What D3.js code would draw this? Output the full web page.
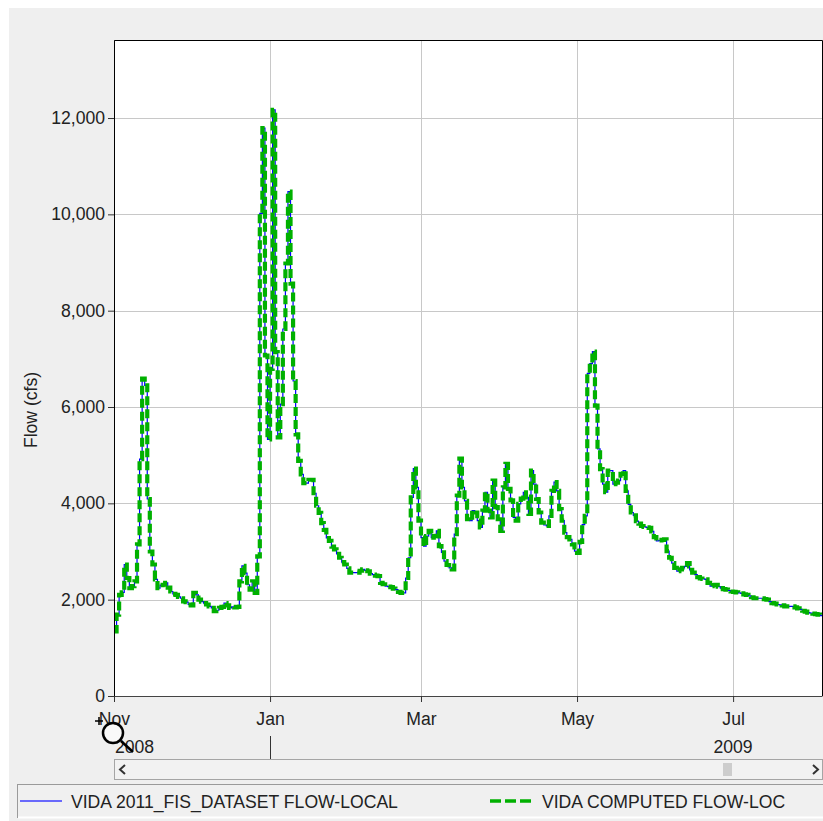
<!DOCTYPE html>
<html>
<head>
<meta charset="utf-8">
<script src="https://cdn.jsdelivr.net/npm/d3@7"></script>
<style>
    html, body { margin: 0; padding: 0; background: #fff; }
    #chart { width: 823px; height: 821px; }
    text { font-family: "Liberation Sans", Arial, sans-serif; fill: #222; }
</style>
</head>
<body>
<div id="chart"></div>
<script>
// Daily flow (cfs), first value is 2008-11-01
const startDate = '2008-11-01';
const localFlow = [
    1340, 1690, 2100, 2150, 2730, 2450, 2240, 2280, 2380, 3150,
    4920, 6590, 6450, 4090, 3000, 2730, 2420, 2240, 2300, 2310,
    2350, 2250, 2170, 2120, 2100, 2060, 2030, 1965, 1950, 1900,
    1880, 2140, 2100, 2000, 1960, 1930, 1900, 1860, 1830, 1760,
    1780, 1830, 1850, 1930, 1880, 1830, 1850, 1840, 1850, 2380,
    2700, 2550, 2310, 2210, 2380, 2140, 2900, 10020, 11790, 7070,
    5330, 6790, 12170, 7140, 5370, 6060, 7620, 8980, 10470, 8560,
    6540, 5430, 4880, 4600, 4420, 4420, 4490, 4490, 4210, 3950,
    3800, 3590, 3450, 3280, 3220, 3100, 3045, 2950, 2870, 2780,
    2730, 2650, 2560, 2560, 2560, 2560, 2600, 2630, 2610, 2590,
    2540, 2520, 2500, 2490, 2350, 2320, 2280, 2270, 2260, 2230,
    2210, 2160, 2140, 2140, 2450, 2870, 4125, 4720, 4330, 3640,
    3290, 3110, 3320, 3430, 3290, 3320, 3430, 3110, 2980, 2800,
    2720, 2660, 2630, 3360, 4160, 4930, 4330, 4050, 3670, 3640,
    3850, 3810, 3640, 3500, 3850, 4230, 3850, 3710, 4470, 3920,
    3670, 3430, 4330, 4820, 4300, 4060, 3710, 3640, 3990, 4100,
    4230, 4125, 3780, 4680, 4400, 4090, 3810, 3600, 3550, 3530,
    3740, 4260, 4440, 4260, 3880, 3640, 3390, 3300, 3250, 3150,
    3010, 2970, 3200, 3560, 3740, 6700, 6900, 7150, 6030, 5130,
    4710, 4400, 4230, 4680, 4680, 4400, 4430, 4470, 4610, 4680,
    4260, 3980, 3810, 3750, 3630, 3580, 3530, 3510, 3500, 3490,
    3420, 3300, 3220, 3230, 3240, 3250, 3010, 2870, 2760, 2660,
    2590, 2630, 2660, 2690, 2760, 2620, 2560, 2520, 2470, 2440,
    2430, 2420, 2350, 2280, 2300, 2310, 2270, 2240, 2220, 2210,
    2190, 2170, 2160, 2150, 2140, 2130, 2110, 2100, 2080, 2050,
    2030, 2030, 2030, 2030, 2010, 2000, 1960, 1930, 1920, 1900,
    1890, 1880, 1860, 1860, 1860, 1860, 1840, 1820, 1800, 1770,
    1750, 1730, 1720, 1710, 1700, 1690, 1670, 1660
];
// computed series lies on top of the observed one in the picture
const computedFlow = localFlow;

const seriesNames = ['VIDA 2011_FIS_DATASET FLOW-LOCAL', 'VIDA COMPUTED FLOW-LOC'];
const yTicks = [0, 2000, 4000, 6000, 8000, 10000, 12000];
const monthTicks = ['2008-11-01', '2009-01-01', '2009-03-01', '2009-05-01', '2009-07-01'];
const yearLabels = ['2008', '2009'];
const yearBreaks = ['2009-01-01'];
const yMax = 13620;
const yLabel = 'Flow (cfs)';

class FlowChart {
    constructor(elementId) {
        this.elementId = elementId;
        this.width = 823;
        this.height = 821;
        this.fontSize = '17.6px';
        this.plot = { left: 114, top: 40, right: 822, bottom: 696 };
    }

    init() {
        const container = document.getElementById(this.elementId);
        container.innerHTML = '';
        const p = this.plot;
        const fs = this.fontSize;
        const parse = d3.timeParse('%Y-%m-%d');
        const start = parse(startDate);
        const end = d3.timeHour.offset(parse('2009-08-04'), 18);

        const svg = d3.select(container).append('svg')
            .attr('width', this.width)
            .attr('height', this.height);

        // Panel background
        svg.append('rect').attr('width', this.width).attr('height', this.height).attr('fill', '#fff');
        svg.append('rect').attr('x', 9).attr('y', 8)
            .attr('width', this.width - 9).attr('height', this.height - 8)
            .attr('fill', '#efefef');

        const x = d3.scaleTime().domain([start, end]).range([p.left, p.right]);
        const y = d3.scaleLinear().domain([0, yMax]).range([p.bottom, p.top]);

        svg.append('rect')
            .attr('x', p.left).attr('y', p.top)
            .attr('width', p.right - p.left).attr('height', p.bottom - p.top)
            .attr('fill', '#fff');

        // Grid
        const grid = svg.append('g').attr('stroke', '#c8c8c8').attr('stroke-width', 1);
        grid.selectAll('.hy').data(yTicks.slice(1)).enter().append('line')
            .attr('x1', p.left).attr('x2', p.right)
            .attr('y1', d => Math.round(y(d)) + 0.5).attr('y2', d => Math.round(y(d)) + 0.5);
        grid.selectAll('.vx').data(monthTicks.slice(1)).enter().append('line')
            .attr('x1', d => Math.round(x(parse(d))) + 0.5).attr('x2', d => Math.round(x(parse(d))) + 0.5)
            .attr('y1', p.top).attr('y2', p.bottom);

        // Series
        svg.append('clipPath').attr('id', 'plot-clip').append('rect')
            .attr('x', p.left).attr('y', p.top)
            .attr('width', p.right - p.left).attr('height', p.bottom - p.top);

        const toPoints = arr => arr.map((v, i) => ({ date: d3.timeDay.offset(start, i), value: v }));
        const line = d3.line()
            .x(d => x(d.date))
            .y(d => y(d.value))
            .curve(d3.curveStepAfter);

        const series = svg.append('g').attr('clip-path', 'url(#plot-clip)');
        series.append('path')
            .datum(toPoints(localFlow))
            .attr('fill', 'none')
            .attr('stroke', '#0000ff')
            .attr('stroke-width', 1.2)
            .attr('d', line);
        series.append('path')
            .datum(toPoints(computedFlow))
            .attr('fill', 'none')
            .attr('stroke', '#00b000')
            .attr('stroke-width', 4.2)
            .attr('stroke-dasharray', '9,4')
            .attr('d', line);

        // Y axis
        const yAxis = svg.append('g')
            .attr('transform', `translate(${p.left},0)`)
            .call(d3.axisLeft(y).tickValues(yTicks).tickFormat(d3.format(',')).tickSize(6).tickPadding(3).tickSizeOuter(0));
        yAxis.select('.domain').attr('stroke', '#000');
        yAxis.selectAll('.tick line').attr('stroke', '#333');
        yAxis.selectAll('text').style('font-size', fs).attr('fill', '#222');

        // X axis
        const xAxis = svg.append('g')
            .attr('transform', `translate(0,${p.bottom})`)
            .call(d3.axisBottom(x).tickValues(monthTicks.map(parse))
                .tickFormat(d3.timeFormat('%b')).tickSize(6).tickPadding(11).tickSizeOuter(0));
        xAxis.select('.domain').attr('stroke', '#444');
        xAxis.selectAll('.tick line').attr('stroke', '#333');
        xAxis.selectAll('text').style('font-size', fs).attr('fill', '#222');

        // Plot frame
        svg.append('path')
            .attr('d', `M${p.left + 0.5},${p.bottom}V${p.top + 0.5}H${p.right + 0.5}V${p.bottom}`)
            .attr('fill', 'none').attr('stroke', '#000');

        // Year row
        svg.selectAll('.year-break').data(yearBreaks).enter().append('line')
            .attr('x1', d => Math.round(x(parse(d))) + 0.5).attr('x2', d => Math.round(x(parse(d))) + 0.5)
            .attr('y1', 736).attr('y2', 759)
            .attr('stroke', '#333');
        svg.selectAll('.year-label').data(yearLabels).enter().append('text')
            .attr('x', d => Math.max(p.left + 1, x(parse(d + '-07-01'))))
            .attr('y', 753)
            .attr('text-anchor', d => x(parse(d + '-07-01')) < p.left ? 'start' : 'middle')
            .style('font-size', fs)
            .text(d => d);

        // Scrollbar
        svg.append('rect').attr('x', p.left + 0.5).attr('y', 759.5)
            .attr('width', p.right - p.left).attr('height', 20)
            .attr('fill', '#f2f2f2').attr('stroke', '#a5a5a5');
        svg.append('rect').attr('x', 723).attr('y', 763).attr('width', 9).attr('height', 13)
            .attr('fill', '#cdcdcd');
        svg.append('path').attr('d', 'M125,765 L120,769.5 L125,774')
            .attr('fill', 'none').attr('stroke', '#333').attr('stroke-width', 2);
        svg.append('path').attr('d', 'M813,765 L818,769.5 L813,774')
            .attr('fill', 'none').attr('stroke', '#333').attr('stroke-width', 2);

        // Legend
        svg.append('rect').attr('x', 17.5).attr('y', 784.5).attr('width', 815).attr('height', 33)
            .attr('fill', '#f0f0f0').attr('stroke', '#9a9a9a');
        svg.append('line').attr('x1', 18).attr('x2', 823).attr('y1', 817.5).attr('y2', 817.5)
            .attr('stroke', '#fff').attr('stroke-width', 2);
        svg.append('line').attr('x1', 20).attr('x2', 62).attr('y1', 801).attr('y2', 801)
            .attr('stroke', '#3c3cff').attr('stroke-width', 1.6);
        svg.append('text').attr('x', 71).attr('y', 808).style('font-size', fs).text(seriesNames[0]);
        svg.append('line').attr('x1', 490).attr('x2', 533).attr('y1', 801).attr('y2', 801)
            .attr('stroke', '#00b000').attr('stroke-width', 3.5).attr('stroke-dasharray', '11,4');
        svg.append('text').attr('x', 542).attr('y', 808).style('font-size', fs).text(seriesNames[1]);

        // Y label
        svg.append('text')
            .attr('transform', 'translate(37,410) rotate(-90)')
            .attr('text-anchor', 'middle')
            .style('font-size', fs)
            .text(yLabel);

        // Mouse cursor (magnifier) captured in the screenshot
        const cursor = svg.append('g').attr('stroke', '#000').attr('fill', 'none');
        cursor.append('circle').attr('cx', 113).attr('cy', 733).attr('r', 10)
            .attr('stroke-width', 2.5).attr('fill', 'rgba(255,255,255,0.6)');
        cursor.append('line').attr('x1', 121).attr('y1', 741).attr('x2', 133).attr('y2', 752)
            .attr('stroke-width', 2.5);
        cursor.append('path').attr('d', 'M95,721H103M99,717V725').attr('stroke-width', 1.5);
    }
}

const chart = new FlowChart('chart');
chart.init();
</script>
</body>
</html>
